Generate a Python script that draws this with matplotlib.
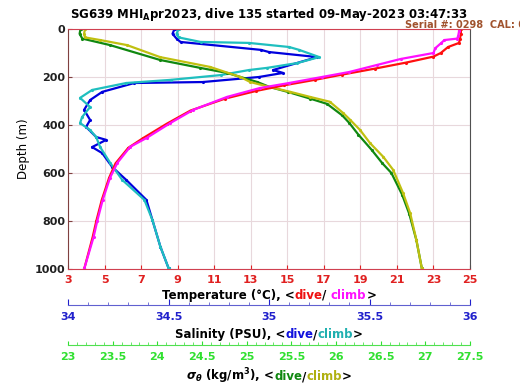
import matplotlib
matplotlib.use("Agg")
import matplotlib.pyplot as plt

plt.rcParams['font.family'] = ['DejaVu Sans']
plt.rcParams['font.weight'] = 'bold'

# Temperature, dive (red) and climb (magenta)
t_dive_depth = [0, 20, 40, 58, 75, 100, 115, 140, 165, 190, 212, 235, 258, 290, 340, 395, 455, 495, 560, 620, 712, 800, 867, 996]
t_dive = [24.5, 24.5, 24.45, 24.4, 23.8, 23.4, 23.0, 21.5, 19.8, 18.0, 16.5, 14.8, 13.3, 11.6, 9.7, 8.4, 7.1, 6.3, 5.6, 5.25, 4.85, 4.55, 4.35, 3.9]
t_climb_depth = [0, 10, 30, 40, 46, 60, 80, 100, 125, 150, 179, 200, 225, 246, 283, 337, 392, 454, 491, 558, 620, 712, 800, 867, 996]
t_climb = [24.4, 24.4, 24.35, 24.3, 23.6, 23.4, 23.1, 23.0, 21.2, 19.9, 18.4, 16.9, 15.1, 13.5, 11.7, 9.85, 8.6, 7.3, 6.4, 5.7, 5.3, 4.9, 4.6, 4.4, 3.9]

# Salinity, dive (blue) and climb (cyan)
s_dive_depth = [0, 20, 40, 54, 87, 96, 117, 171, 183, 200, 221, 225, 262, 296, 337, 379, 408, 450, 462, 492, 517, 575, 629, 712, 796, 908, 996]
s_dive = [34.53, 34.52, 34.54, 34.56, 34.96, 35.0, 35.24, 35.02, 35.07, 34.95, 34.67, 34.33, 34.17, 34.11, 34.08, 34.11, 34.09, 34.14, 34.19, 34.12, 34.17, 34.22, 34.29, 34.39, 34.42, 34.46, 34.50]
s_climb_depth = [0, 20, 35, 54, 58, 75, 87, 117, 142, 162, 171, 192, 212, 225, 254, 287, 325, 367, 392, 421, 450, 492, 558, 629, 712, 796, 908, 996]
s_climb = [34.55, 34.54, 34.55, 34.66, 34.9, 35.1, 35.15, 35.25, 35.14, 34.99, 34.9, 34.76, 34.51, 34.29, 34.12, 34.06, 34.11, 34.07, 34.06, 34.11, 34.14, 34.16, 34.21, 34.27, 34.38, 34.42, 34.46, 34.50]

# Sigma-theta, dive (green) and climb (olive)
d_dive_depth = [0, 20, 40, 67, 129, 162, 183, 221, 242, 262, 290, 312, 360, 392, 440, 504, 560, 600, 690, 770, 880, 996]
d_dive = [23.14, 23.13, 23.16, 23.47, 24.03, 24.48, 24.78, 25.12, 25.26, 25.46, 25.71, 25.90, 26.07, 26.15, 26.25, 26.40, 26.52, 26.62, 26.74, 26.82, 26.90, 26.96]
d_climb_depth = [0, 20, 35, 46, 67, 117, 158, 200, 221, 242, 262, 283, 303, 350, 379, 421, 475, 533, 587, 683, 767, 879, 996]
d_climb = [23.19, 23.18, 23.19, 23.36, 23.66, 24.03, 24.59, 24.93, 25.04, 25.26, 25.49, 25.71, 25.93, 26.08, 26.16, 26.27, 26.38, 26.53, 26.64, 26.75, 26.83, 26.90, 26.96]

t_ticks = [3, 5, 7, 9, 11, 13, 15, 17, 19, 21, 23, 25]
s_ticks = [34, 34.5, 35, 35.5, 36]
d_ticks = [23, 23.5, 24, 24.5, 25, 25.5, 26, 26.5, 27, 27.5]
depth_ticks = [0, 200, 400, 600, 800, 1000]

T0, T1 = 3, 25
S0, S1 = 34, 36
D0, D1 = 23, 27.5


def s_to_t(s):
    return T0 + (s - S0) / (S1 - S0) * (T1 - T0)


def t_to_s(t):
    return S0 + (t - T0) / (T1 - T0) * (S1 - S0)


def d_to_t(d):
    return T0 + (d - D0) / (D1 - D0) * (T1 - T0)


def t_to_d(t):
    return D0 + (t - T0) / (T1 - T0) * (D1 - D0)


fig = plt.figure(figsize=(5.2, 3.9), dpi=100)
ax = fig.add_axes([68 / 520, 1 - 269 / 390, 402 / 520, 240 / 390])

kw = dict(lw=1.6, marker='.', ms=2.5)
ax.plot([s_to_t(v) for v in s_dive], s_dive_depth, color='#0000dd', **kw)
ax.plot([s_to_t(v) for v in s_climb], s_climb_depth, color='#1fbfbf', **kw)
ax.plot([d_to_t(v) for v in d_dive], d_dive_depth, color='#108810', **kw)
ax.plot([d_to_t(v) for v in d_climb], d_climb_depth, color='#c0c010', **kw)
ax.plot(t_dive, t_dive_depth, color='#ff1010', **kw)
ax.plot(t_climb, t_climb_depth, color='#ff10ff', **kw)

ax.set_xlim(T0, T1)
ax.set_ylim(1000, 0)
ax.set_xticks(t_ticks)
ax.set_yticks(depth_ticks)
ax.grid(True, color='#e8d8dc', lw=0.8)
ax.set_axisbelow(True)
ax.tick_params(axis='x', direction='in', colors='#e02020', labelsize=8, length=3, pad=4)
ax.tick_params(axis='y', direction='in', labelsize=8, length=3, pad=2, labelcolor='#202020', color='#804040')
for side, c in [('top', '#d04050'), ('bottom', '#d04050'), ('left', '#804040'), ('right', '#505050')]:
    ax.spines[side].set_color(c)
ax.set_ylabel('Depth (m)', fontsize=8.5, labelpad=3)

# secondary axes for salinity and sigma
sax = ax.secondary_xaxis(-0.15, functions=(t_to_s, s_to_t))
sax.set_xticks(s_ticks)
sax.set_xticklabels(['34', '34.5', '35', '35.5', '36'])
sax.set_xticks([S0 + 0.1 * i for i in range(21)], minor=True)
sax.tick_params(which='both', direction='in', colors='#2020cc', labelsize=8, pad=5)
sax.tick_params(which='major', length=4)
sax.tick_params(which='minor', length=2, color='#6060d0')
sax.spines['bottom'].set_color('#6060d0')

dax = ax.secondary_xaxis(-0.317, functions=(t_to_d, d_to_t))
dax.set_xticks(d_ticks)
dax.set_xticklabels(['23', '23.5', '24', '24.5', '25', '25.5', '26', '26.5', '27', '27.5'])
dax.set_xticks([D0 + 0.1 * i for i in range(46)], minor=True)
dax.tick_params(which='both', direction='in', colors='#30e030', labelsize=8, pad=5)
dax.tick_params(which='major', length=3)
dax.tick_params(which='minor', length=2, color='#50e050')
dax.spines['bottom'].set_color('#50e050')


def colored_label(y, parts):
    # draw a centred label out of differently coloured pieces, all on one baseline
    texts = [fig.text(0, y, s, color=c, fontsize=8.5, fontweight='bold', va='baseline', ha='left')
             for s, c in parts]
    fig.canvas.draw()
    r = fig.canvas.get_renderer()
    widths = [t.get_window_extent(r).width / fig.bbox.width for t in texts]
    x = (68 + 470) / 2 / 520 - sum(widths) / 2
    for t, w in zip(texts, widths):
        t.set_x(x)
        x += w


colored_label(1 - 299 / 390, [('Temperature (°C), <', '#000000'), ('dive', '#ee1010'), ('/ ', '#000000'),
                              ('climb', '#ff10ff'), ('>', '#000000')])
colored_label(1 - 338 / 390, [('Salinity (PSU), <', '#000000'), ('dive', '#1010dd'), ('/', '#000000'),
                              ('climb', '#20b0b0'), ('>', '#000000')])
colored_label(1 - 380 / 390, [(r'$\sigma_\theta$ (kg/m$^3$), <', '#000000'), ('dive', '#108810'), ('/', '#000000'),
                              ('climb', '#b0b010'), ('>', '#000000')])

fig.text((68 + 470) / 2 / 520, 1 - 18 / 390, r'SG639 MHI$_\mathbf{A}$pr2023, dive 135 started 09-May-2023 03:47:33',
         ha='center', va='baseline', fontsize=8.5, fontweight='bold')
fig.text(405 / 520, 1 - 28 / 390, 'Serial #: 0298  CAL: 06/22/22', color='#a0522d', fontsize=7, fontweight='bold',
         va='baseline')

fig.savefig('out.png', dpi=100)
